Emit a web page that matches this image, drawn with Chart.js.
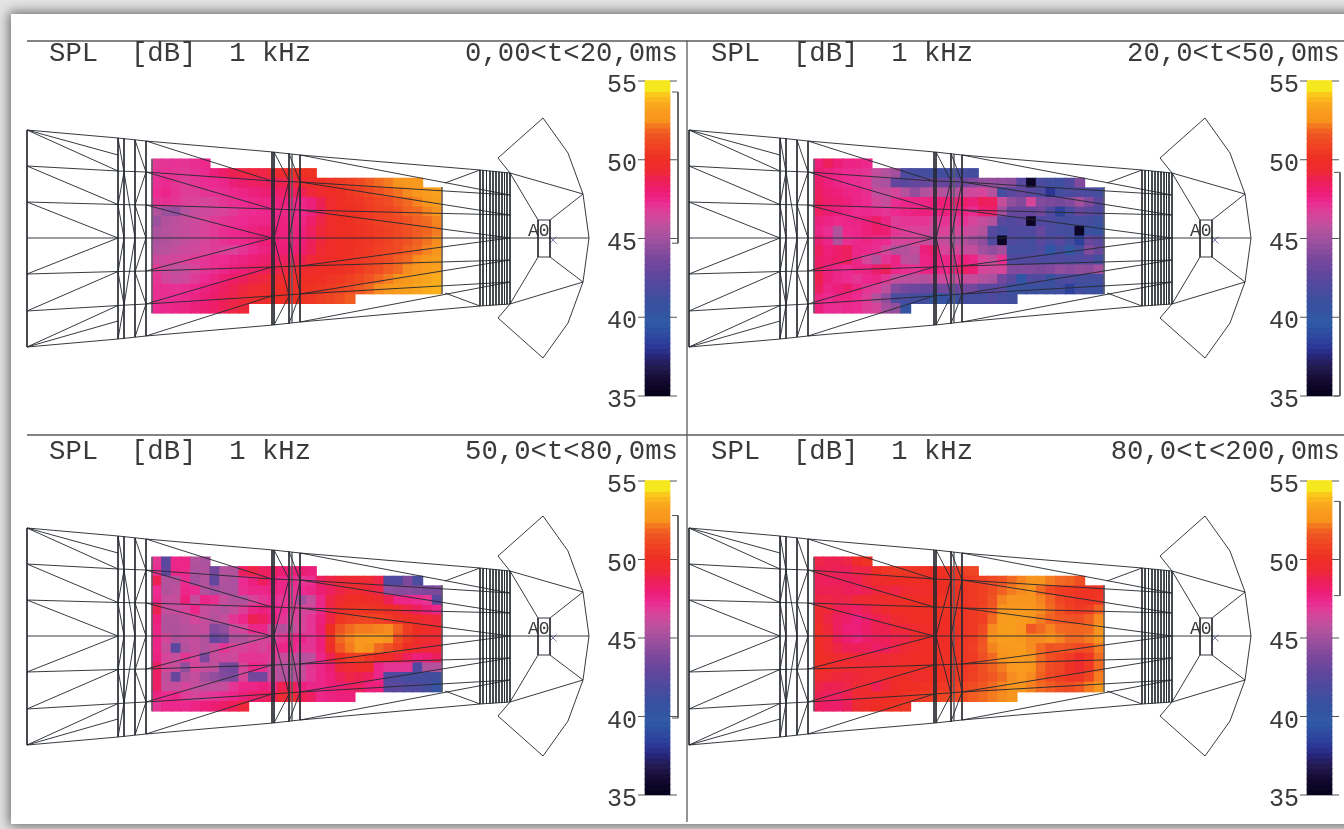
<!DOCTYPE html>
<html><head><meta charset="utf-8">
<style>
html,body{margin:0;padding:0;width:1344px;height:829px;overflow:hidden;background:#e4e4e4}
#page{position:absolute;left:11px;top:14px;width:1400px;height:810px;background:#fff;box-shadow:0 0 11px 2px rgba(0,0,0,.55)}
canvas{position:absolute;filter:blur(.7px)}
</style>
<script src="https://cdn.jsdelivr.net/npm/chart.js@4"></script>
</head><body><div id="page"></div>
<canvas id="c0" width="700" height="440" style="left:0;top:0"></canvas>
<canvas id="c1" width="700" height="440" style="left:662px;top:0"></canvas>
<canvas id="c2" width="700" height="440" style="left:0;top:398px"></canvas>
<canvas id="c3" width="700" height="440" style="left:662px;top:398px"></canvas>
<script>
const titleLeft = "SPL  [dB]  1 kHz";
const titleRight = ["0,00<t<20,0ms","20,0<t<50,0ms","50,0<t<80,0ms","80,0<t<200,0ms"];
const dbTicks = [35,40,45,50,55];
const bracketDb = [[54.3,44.7],[49.2,35],[52.8,39.9],[53.7,47.7]];

const spl0 = [
[46.9,47,47.1,47,47.2,47.4],
[47,47.1,47,46.9,47.1,47.3,47.8,48.3,48.8,49,49.1,49,49.3,49.6,49.9,50.1,50.2],
[47.1,47.3,47,46.8,47,47.2,47.3,47.5,47.9,48.2,48.4,48.5,48.6,48.8,49,49.3,49.7,50.1,50.3,50.5,50.8,51.2,51.6,52,52.2,52.5,52.7,52.9],
[47.3,47.5,47.1,46.8,46.8,47,47.1,47.2,47.4,47.6,47.8,48,48.1,48.3,48.5,48.8,49.2,49.6,49.9,50.1,50.4,50.7,51.1,51.5,51.8,52.1,52.4,52.7,53,53.3],
[47,47.2,47,46.7,46.6,46.5,46.7,47,47.2,47.3,47.5,47.6,47.6,47.8,47.6,47.5,47.8,48.8,49.6,50,50.2,50.4,50.7,51,51.3,51.7,52,52.3,52.7,53],
[45.5,44.8,44.6,45.6,46,46.2,46.4,46.6,46.9,47.2,47.3,47.4,47.4,47.5,47.5,47.4,47.7,48.6,49.5,49.9,50,50.2,50.5,50.8,51,51.4,51.8,52,52.3,52.5],
[44.8,45.5,45.8,46,46.2,46.5,46.8,47,47.2,47.3,47.5,47.5,47.6,47.7,47.6,47.6,48.2,49,49.7,50,50.1,50.3,50.5,50.8,51,51.2,51.5,51.8,52,52.3],
[45.3,45.6,45.8,46,46.3,46.6,46.9,47.2,47.4,47.5,47.7,47.9,47.9,47.8,47.7,47.8,48.5,49.2,49.7,50,50.1,50.2,50.4,50.6,50.8,51.1,51.4,51.7,51.9,52.2],
[45.3,45.5,45.7,46,46.2,46.5,46.8,47.1,47.3,47.4,47.6,47.9,48,47.8,47.7,47.9,48.5,49.2,49.7,50,50.1,50.2,50.4,50.6,50.9,51.2,51.5,51.8,52.1,52.4],
[45.5,45.7,46,46.2,46.3,46.6,46.8,46.7,46.6,47,47.4,47.7,47.9,47.9,47.9,48.1,48.7,49.3,49.8,50,50.1,50.3,50.5,50.8,51,51.3,51.7,52,52.3,52.6],
[46.2,46.4,46.4,46.6,46.8,47,47.2,47.3,47.5,47.7,47.9,48.1,48.3,48.4,48.5,48.8,49.2,49.6,49.9,50,50.2,50.4,50.7,51,51.3,51.7,52,52.4,52.7,53],
[46.8,46.2,45.9,46,46.5,47,47.2,47.5,47.8,48,48.3,48.5,48.8,49,49.2,49.4,49.7,49.9,50,50.1,50.3,50.6,51,51.3,51.7,52,52.4,52.7,53,53.3],
[47,46.4,46.1,46.3,46.8,47.3,47.6,48,48.3,48.6,48.9,49.1,49.3,49.5,49.7,49.9,50,50.1,50.3,50.5,50.8,51.1,51.5,51.9,52.2,52.5,52.8,53.1,53.4,53.6],
[47.2,47.2,47.1,47.2,47.4,47.7,48,48.4,48.8,49.1,49.3,49.5,49.7,49.9,50,50.1,50.2,50.4,50.6,50.9,51.2,51.6,52,52.4,52.7,53,53.2,53.4,53.6,53.7],
[47.2,47.2,47.3,47.4,47.6,47.9,48.2,48.6,48.9,49.2,49.5,49.7,49.9,50,50.1,50.2,50.4,50.7,51,51.3,51.7],
[47.3,47.4,47.5,47.6,47.8,48,48.3,48.7,49,49.2]];
const spl1 = [
[47.8,48.6,47.9,47.6,47.6,47.4],
[48,47.8,47.5,47.3,47.2,47,46,45.5,45,41.8,41.5,41.5,41.2,41.3,41.5,41.6,41.4],
[48.2,47.8,47.5,47.3,47.2,47,45.5,45.2,42.8,42.5,43,43,43.5,43,43.2,43.5,44,44.5,44.6,44.5,44.3,42.3,35.5,41.8,41.5,41.2,42,44],
[48.4,48,47.8,47.6,47.5,47.2,46,46,46.5,45.5,44.5,45.5,45.8,45.5,45.5,46,46.3,46.5,45.5,41.5,42.5,43,42.5,42,38,41.5,41.8,42,41.8,41.5],
[48.6,48.2,48,47.8,47.5,47.3,46.5,46,47.2,47.5,47.5,47.6,47.8,48,48,48.2,47.8,48.6,48.5,46,44.5,44,46.5,44,43.8,43.6,44,45,44,42.5],
[48.4,48,47.8,47.6,47.3,47.4,47.2,47,47.3,47.5,47.7,47.8,47.6,47.8,47.5,47.6,47.2,48,48.2,45,43,43,43,43.5,42,38.5,41.8,43,42.5,42],
[47.8,47.6,47.4,47.5,47.6,47.8,48.3,47.6,46.8,47,47,47,46.5,47,46.8,47,46.5,46,45.5,42.5,42,42.5,35.5,42,42,41.5,41.5,41.5,41.5,41],
[47.6,47.2,45.5,47.4,47.5,47.8,48.2,48,47,46.8,46.6,46.6,46,46.6,46.5,46.3,46,45.5,42.3,41.5,42,42,42,43,41.8,41.5,41.5,35.5,41,40.5],
[48,47.5,45.5,47.2,47.4,47.6,47.4,47.3,46.5,46.4,46.5,46.2,45.8,46,45.5,45.5,45,44.5,42,35.5,42,41.8,41.5,42.5,41.8,42.5,41.5,38.5,43,42.5],
[48.5,47.8,48.2,48.5,47.5,47.4,47.2,46.5,45.5,45.5,46,47.8,48.2,46.5,46.5,46,46,45,44.5,45,41.5,41.5,41.5,42,39.5,41.5,39.8,41.5,44,43],
[48.3,48,48.3,48.5,47.5,46.5,45.5,47,47.6,45.8,45.6,47.6,47.8,47.5,47.4,47.8,47.6,46.5,46,47.2,42,42,42.2,41.8,41.8,42,41.8,42,42.3,41.5],
[48.5,47.8,47.5,47.3,47.6,47.6,48.2,48.6,47.5,47.2,47,47.5,47.8,47.5,47.8,48.4,48,46.5,46.3,46.5,44,44,44,43.8,44,44.5,44.2,44.5,44.3,45],
[48.8,47.8,47.5,47.3,47,47.4,47.6,47,46,45.8,45.8,45.5,46,46.2,46.2,46,46,45.5,45.2,43.5,42.5,39.5,42,42,40.8,41.8,42,41.5,41.5,41.5],
[48.5,47.6,47.8,48.2,47.6,47,46.8,45.8,44,43.5,43.2,43,43,43.5,43,43.5,43.5,42.5,42.5,42.5,41,41,41,41,41,41.3,38.5,41.3,41,41],
[47.6,47.3,47.6,47.6,47.3,46.8,45.5,44.5,41.8,41.8,41.5,41.5,40,40.5,41,41.5,41.5,41.5,42,41.5,41.3],
[47.8,47.3,47.2,47.4,47.3,46.8,46.5,45,44.5,40.5]];
const spl2 = [
[47,42.5,47.5,47.6,45.5,45.3],
[47.2,42.8,47.5,47.4,45.3,45.5,43.5,45.5,45.5,48.5,49,48.5,48.5,48,47.8,48,47.8],
[48.8,45.5,45.5,47.3,45,45.5,42.8,45.5,45.3,47.3,47.8,48.6,48,47.5,47.4,47,47.2,48.4,49,49.2,49.3,49.4,49.3,49,42,42,43.8,41.8],
[47.3,45.5,45.8,47.5,47.3,45.5,45,45.3,45.3,47.2,47.5,47.5,47.7,47.5,47,47.3,47.5,48,48.5,49,49.3,49.5,49.2,49,44.5,44.3,44.2,44,43.8,43.8],
[47.5,46,46,47.8,46,47.5,47.2,46,45.5,45.5,46.5,47,47.3,47,47,45,46,47.5,49,49.5,50,50,49.8,49.6,48.8,47.5,47.5,47.3,47,42.5],
[48.8,46,46,46.5,47.5,46,45.8,45.5,46,46.8,47.5,47.8,47.5,47.3,47,46.5,46.5,47.5,49,49.8,50.2,50.3,50.3,50.2,50,49.6,49,48.5,47.8,47.5],
[47.8,45.5,45.5,45.8,46.5,46,45.5,46,47,47.5,48.8,48.4,47.8,47,46.5,46.5,47,47.8,49,50.4,50.7,50.9,51,50.8,50.5,50.2,50,49.6,49.4,49.2],
[47.6,45.5,45.4,45.6,45.8,46,44,44.5,46,46.5,47.5,47.5,46,45.5,46,46.5,47,48,50,51.5,52,52.2,52.2,52.3,52.4,51.8,50.6,50,49.8,49.6],
[47.5,46.5,45.5,45.8,46,45.5,43,43.5,45.5,45.5,46,46.5,46.5,47,47.5,47.5,47,47.8,50.2,52,52.3,52.8,52.9,52.9,52.6,51.4,50.5,49.8,49.5,49.5],
[47.6,46,42.5,45.5,46,45.5,46,47,46.5,46.5,46.8,46.5,47,47.5,47.5,47,47,47.8,49.8,51.6,52.2,52.8,52.5,52,51.5,50.8,50,49.6,49.2,49.2],
[47.7,46.5,46,47,46.5,43.8,46,46.3,46.2,47,47,47,46.8,46,46,45.5,45.8,47.5,48.8,50,50.6,50.8,50.4,50,49.8,49.2,48.5,47.8,48,48.6],
[48.4,46.5,46,44.5,46.5,46,45.8,43.8,43.5,46.5,47.5,47.2,46,45.5,45.5,46,47,47.5,48,49.2,49.5,49.8,49.8,47.5,47,47,47,42,45.5,45.5],
[48.4,45.8,43,45.5,46,45,44.5,44,43.8,46.5,43.5,43.5,46,45.5,45.5,46,47,47.5,47.8,48.6,49,48.8,48.5,47.5,42,42,41.5,41.5,41.5,41.2],
[48.4,46,46,46.5,46,45.8,45.8,46,47,47.5,47.5,47.8,47.5,48.8,48.8,47.8,47.5,47.5,47.8,48,48.3,48.5,47.8,47.8,42.5,42.5,42,42,41.5,40.5],
[47.6,47.3,47.5,46.8,46.5,46.8,47,47.2,47.5,47.8,48.2,48.4,48.6,49.3,49.3,48.8,48.4,47.5,47.7,47.8,47.8],
[47,47.4,47.4,47.4,47.6,47.8,48,48.3,48.7,49.2]];
const spl3 = [
[49,48.8,48.8,49,49.8,50.2],
[48.8,48.8,48.6,48.6,49,49,50,50.4,50.5,50.4,50.3,50.2,50,50.2,50.3,50.8,51],
[48.6,48.5,48.6,48.6,48.7,49.2,49.6,49.8,50,50,50,49.9,50,50.1,50.2,50.4,50.6,50.8,51.2,51.5,52,52.3,52.6,52.5,52.2,52,51.8,51.4],
[48.8,48.8,48.8,48.6,48.5,48.8,49.2,49.2,49,49.4,49.6,49.8,49.8,50,50.1,50.3,50.5,50.8,51.3,51.8,52.2,52.4,52.5,52,51.2,50.7,50.5,50.3,50.2,50.2],
[49,49,48.9,49,49.3,49.4,49.6,49.7,49.7,49.9,50,50,50.1,50.2,50.2,50.3,50.5,50.8,51.5,52.3,52.6,52.6,52.6,52.3,51.8,51,50.6,50.3,50.2,50.4],
[49.5,49.2,48.8,48.6,48.4,48.8,49.2,49.6,49.9,50,50,50.1,50.2,50.2,50.2,50.3,50.5,50.9,51.6,52.6,52.8,52.9,52.8,52.4,52,51.4,50.8,50.5,50.8,51.8],
[49.7,49,48.5,48.2,47.8,48.2,48.8,49,49.5,49.8,50,50,50,50,50.2,50.3,50.5,50.8,52,52.9,53,52.9,52.6,52.2,51.8,51.6,51.5,51.4,51.8,52.4],
[49.9,49.2,48.5,47.9,47.9,48.3,48.8,48.8,49.2,49.2,49.6,49.8,49.8,49.9,50.1,50.3,50.5,51.2,52.4,53,53.1,52.8,51.6,52,52.3,52,51.9,51.9,52,52.5],
[50,49.4,48.6,48.1,47.7,48.2,48.6,48.7,48.9,49,49.5,49.8,49.7,49.9,50.1,50.4,50.6,51.5,52.5,53,53,52.8,52.4,52.4,52.5,52.3,52,52,52.2,52.6],
[50,49.5,49,48.7,48.6,48.7,48.3,48.5,49,49.3,49.7,49.9,50,50,50.2,50.4,50.7,51.6,52.3,52.8,52.9,53,52.4,52,51.5,51.6,51.5,51.2,51.4,52.2],
[50,49.8,49.5,49.4,49.2,49.2,49.2,49.3,49.5,49.7,49.9,50,50,50.1,50.2,50.4,50.6,51.4,52,52.5,52.8,52.9,52.6,52,51.4,51,50.6,49.8,50.5,52],
[50,49.9,49.6,49.5,49.5,49.5,49.4,49.5,49.7,49.9,50,50.1,50,50.1,50.2,50.4,50.7,51.4,51.8,52.2,52.8,52.9,52.7,52,51.3,51,50.2,49.6,50.5,52],
[49.6,49.3,49.2,49.1,49.2,49.3,49.5,49.6,49.8,49.9,49.6,49.8,50,50.1,50.3,50.5,50.8,51.3,51.6,52,52.4,52.8,52.4,51.8,51.2,50.8,50.4,50.3,51,52.2],
[49,48.8,48.8,49,49.3,49.5,48.7,49.2,49.8,50,50.1,50.2,50.3,50.5,50.7,51,51.3,51.6,52,52.3,52.6,52.6,52.3,52,51.7,51.4,51.3,51.6,52.2,52.6],
[48.8,48.5,48.4,48.8,49.3,49.6,49.8,49.9,50,50.2,50.4,50.6,50.8,51,51.2,51.4,51.7,52,52.2,52.4,52.6],
[48.5,48.2,48.2,48.6,49.4,49.7,50,50.1,50.2,50.4]];

// Hall plan, as polylines in plan units
const hallLines = [
[[27,130],[118,138],[146,141],[273,152],[300,155],[480,170],[510,173]],
[[27,347],[118,339],[146,336],[273,325],[300,322],[480,306],[510,304]],
[[27,130],[27,347]],
[[27,166],[118,171],[146,172],[272,181],[300,182],[510,195]],
[[27,202],[118,204.5],[146,205],[272,209],[300,210],[510,215]],
[[27,238],[589,238]],
[[27,274],[118,271.5],[146,271],[272,267],[300,266],[510,260]],
[[27,311],[118,305.5],[146,304],[272,296],[300,294],[510,282]],
[[27,130],[118,171]],[[27,166],[118,204.5]],[[27,202],[118,238]],
[[27,347],[118,305.5]],[[27,311],[118,271.5]],[[27,274],[118,238]],
[[27,130],[118,155]],[[27,347],[118,321]],
[[146,141],[272,181]],[[146,172],[272,209]],[[146,205],[272,238]],
[[146,271],[272,238]],[[146,304],[272,267]],[[146,336],[272,296]],
[[300,155],[510,195]],[[300,182],[510,215]],[[300,210],[510,238]],
[[300,266],[510,238]],[[300,294],[510,260]],[[300,322],[510,282]],
[[445,183],[480,170]],[[445,293],[480,306]],
[[118,138],[118,339]],[[124,138.5],[124,338.5]],[[135,140],[135,337]],[[146,141],[146,336]],
[[272,152],[272,325]],[[274,152],[274,325]],[[289,153.5],[289,323.5]],[[300,155],[300,322]],
[[118,138],[124,172],[135,238],[124,305],[118,339]],
[[124,172],[118,205],[124,238],[118,272],[124,305]],
[[135,140],[146,172],[135,205],[146,238],[135,272],[146,304],[135,337]],
[[274,152],[289,181],[274,238],[289,296],[274,325]],
[[289,153.5],[300,182],[289,238],[300,294],[289,323.5]],
[[480,170],[480,306]],[[483,170.3],[483,305.8]],[[486.5,170.6],[486.5,305.5]],[[490,171],[490,305.4]],
[[493,171.2],[493,305.2]],[[496,171.5],[496,305]],[[499,171.8],[499,304.8]],[[502,172],[502,304.6]],
[[504.5,172.4],[504.5,304.4]],[[507,172.7],[507,304.2]],[[510,173],[510,304]],
[[510,173],[498,158],[543,118],[568,153],[583,194],[589,238],[583,282],[568,323],[543,358],[498,318],[510,304]],
[[510,173],[538,220],[550,220],[550,257],[538,257],[510,304]],
[[538,220],[538,257]],
[[510,173],[583,194]],[[550,220],[583,194]],[[550,257],[583,282]],[[510,304],[583,282]]
];
const gridEdges = [[[152,159],[152,313]],[[442,187],[442,294]],[[292,154],[292,323]]];
const panelFrames = [
[[[27,41],[687,41],[687,435]],[[27,435],[687,435]]],
[[[25,41],[700,41]],[[25,435],[700,435]]],
[[[687,37],[687,424]]],
[]
];
const micPoint = [{x:553,y:240}];
const micLabel = "A0";
const colorStops = [[35,'#04021a'],[35.9,'#12082e'],[36.8,'#231a4e'],[37.4,'#26226f'],[38,'#2b3493'],[38.9,'#2e4ba0'],[39.7,'#305aa5'],[40.8,'#37519f'],[41.9,'#4d4a9f'],[42.7,'#5f469d'],[43.8,'#7b489c'],[44.8,'#9b509e'],[45.7,'#b9529d'],[46.6,'#d9449a'],[47.3,'#ec2a91'],[47.9,'#ec1e78'],[48.7,'#ed1f56'],[49.3,'#ee2a35'],[50,'#ee2d24'],[51.4,'#f04e23'],[52,'#f26a21'],[52.5,'#f7941e'],[53.3,'#f9a01e'],[53.8,'#fbb41c'],[54.3,'#f9d01c'],[54.5,'#f6e81e'],[55,'#f6e81e']];
const splGrids = [spl0,spl1,spl2,spl3];
const dbAnchors = [[81,396],[81,396],[83,397],[83,397]];

function hex(c){return [1,3,5].map(i=>parseInt(c.substr(i,2),16));}
function splColor(v){
  const q = Math.min(55,Math.max(35,v));
  let i=0; while(i<colorStops.length-2 && colorStops[i+1][0]<q) i++;
  const [a,ca]=colorStops[i],[b,cb]=colorStops[i+1];
  const t=Math.min(1,Math.max(0,(q-a)/(b-a))),A=hex(ca),B=hex(cb);
  return 'rgb('+A.map((n,k)=>Math.round(n+(B[k]-n)*t)).join(',')+')';
}
function flat(lines){const o=[];lines.forEach(l=>{l.forEach(p=>o.push({x:p[0],y:p[1]}));o.push({x:null,y:null});});return o;}

const textPlugin = {id:'panelText',afterDraw(chart){
  const c=chart.ctx,i=chart.options.panelIndex,X=chart.scales.x,Y=chart.scales.y;
  c.save();c.fillStyle='#3a3a3a';c.textBaseline='alphabetic';
  c.font='27.3px "Liberation Mono"';
  c.textAlign='left';c.fillText(titleLeft,X.getPixelForValue(49),Y.getPixelForValue(61));
  c.textAlign='right';c.fillText(titleRight[i],X.getPixelForValue(678),Y.getPixelForValue(61));
  c.font='18px "Liberation Mono"';c.textAlign='left';
  c.fillText(micLabel,X.getPixelForValue(528),Y.getPixelForValue(236));
  c.restore();
}};

splGrids.forEach((grid,i)=>{
  const gx=152, cw=9.667, gy=159, ch=9.63;
  const cells=[],cellColors=[];
  grid.forEach((row,r)=>row.forEach((v,col)=>{
    cells.push({x:gx+(col+.5)*cw,y:[gy+r*ch-.2,gy+(r+1)*ch+.2]});
    cellColors.push(splColor(v));
  }));
  const bands=[],bandColors=[];
  for(let b=0;b<60;b++){bands.push({x:657.5,y:[35+b/3,35+(b+1)/3+.03]});bandColors.push(splColor(35+(b+.5)/3));}
  const [y55,y35]=dbAnchors[i],k=(y35-y55)/20;
  const tickLines=[];
  dbTicks.forEach(t=>{tickLines.push([[638,t],[645,t]],[[670,t],[677,t]]);});
  const [bt,bb]=bracketDb[i];
  new Chart(document.getElementById('c'+i),{
    type:'bar',
    data:{datasets:[
      {type:'line',data:flat(hallLines),borderColor:'rgba(38,42,48,.92)',borderWidth:1,pointRadius:0,spanGaps:false,tension:0,order:1},
      {type:'line',data:flat(gridEdges),borderColor:'rgba(90,95,100,.7)',borderWidth:1,pointRadius:0,spanGaps:false,order:1},
      {type:'line',data:flat(panelFrames[i]),borderColor:'#5c5c5c',borderWidth:1.3,pointRadius:0,spanGaps:false,order:1},
      {type:'line',data:micPoint,showLine:false,pointStyle:'crossRot',pointRadius:5,pointBorderColor:'#8080b8',pointBorderWidth:1,order:1},
      {type:'line',yAxisID:'db',data:flat(tickLines),borderColor:'#555',borderWidth:1,pointRadius:0,spanGaps:false,order:1},
      {type:'line',yAxisID:'db',data:flat([[[672,bt],[678,bt],[678,bb],[672,bb]]]),borderColor:'#555',borderWidth:1,pointRadius:0,order:1},
      {type:'bar',data:cells,backgroundColor:cellColors,barThickness:10.1,grouped:false,order:3},
      {type:'bar',yAxisID:'db',data:bands,backgroundColor:bandColors,barThickness:25,grouped:false,order:2}
    ]},
    options:{
      panelIndex:i,responsive:false,animation:false,devicePixelRatio:1,
      layout:{padding:0,autoPadding:false},
      plugins:{legend:{display:false},tooltip:{enabled:false},title:{display:false}},
      events:[],
      scales:{
        x:{type:'linear',min:0,max:700,offset:false,display:false,grid:{display:false}},
        y:{type:'linear',min:0,max:440,reverse:true,display:false,grid:{display:false},beginAtZero:false},
        db:{type:'linear',axis:'y',position:{x:637},min:35-(440-y35)/k,max:55+y55/k,
          grid:{display:false,drawTicks:false},border:{display:false},
          afterBuildTicks(s){s.ticks=dbTicks.map(v=>({value:v}));},
          afterFit(s){s.paddingTop=s.paddingBottom=s.paddingLeft=s.paddingRight=0;},
          ticks:{font:{family:'"Liberation Mono"',size:25},color:'#3a3a3a',padding:0,labelOffset:4.5,autoSkip:false,callback:v=>String(v)}
        }
      }
    },
    plugins:[textPlugin]
  });
});
</script></body></html>
